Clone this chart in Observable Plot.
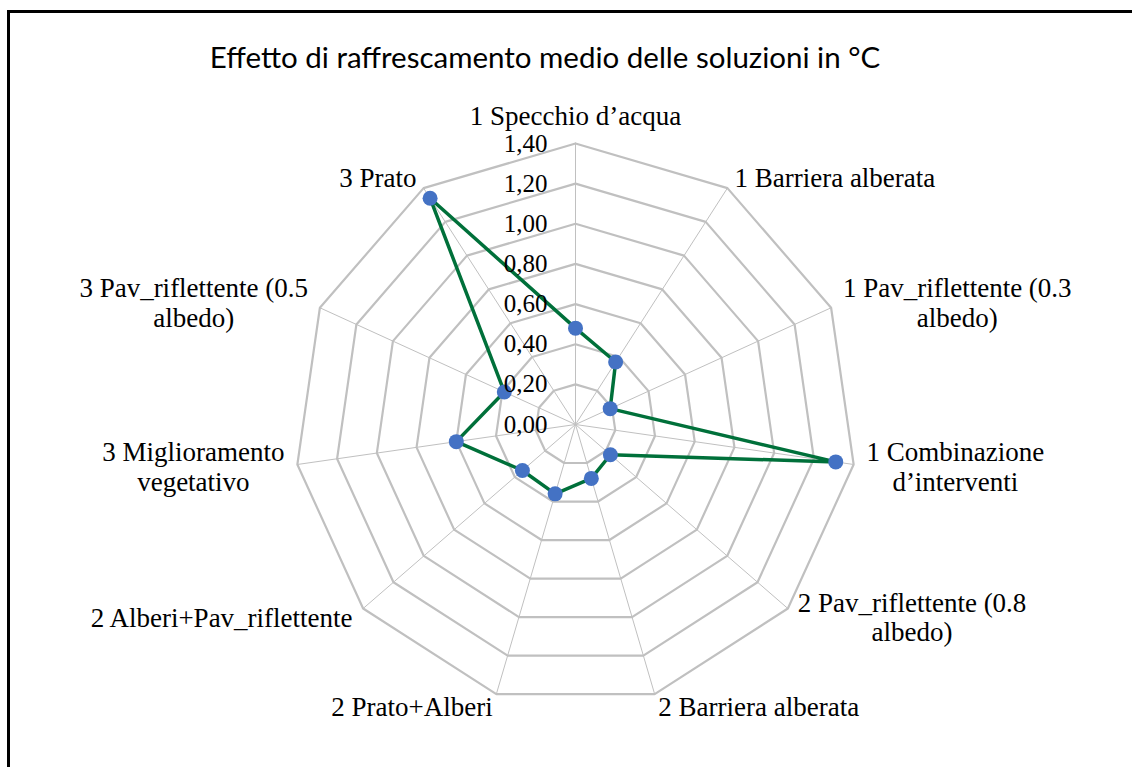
<!DOCTYPE html>
<html>
<head>
<meta charset="utf-8">
<script src="https://cdn.jsdelivr.net/npm/d3@7"></script>
<script src="https://cdn.jsdelivr.net/npm/@observablehq/plot@0.6"></script>
<style>
  body { margin: 0; background: #fff; }
  #wrap { position: relative; width: 1132px; height: 767px; overflow: hidden; background: #fff; }
  #chart { position: absolute; left: 0; top: 0; }
  #title { position: absolute; left: 0; top: 39px; width: 1090px; text-align: center;
           font-family: Lato, "Open Sans", sans-serif; font-size: 29.5px; line-height: 36px; color: #000; }
  #frame { position: absolute; left: 7px; top: 10px; width: 1200px; height: 800px;
           border: 3px solid #000; pointer-events: none; }
</style>
</head>
<body>
<div id="wrap">
  <div id="chart"></div>
  <div id="title">Effetto di raffrescamento medio delle soluzioni in °C</div>
  <div id="frame"></div>
</div>
<script>
// Solutions, clockwise from the top
const categories = [
  "1 Specchio d’acqua",
  "1 Barriera alberata",
  "1 Pav_riflettente (0.3 albedo)",
  "1 Combinazione d’interventi",
  "2 Pav_riflettente (0.8 albedo)",
  "2 Barriera alberata",
  "2 Prato+Alberi",
  "2 Alberi+Pav_riflettente",
  "3 Miglioramento vegetativo",
  "3 Pav_riflettente (0.5 albedo)",
  "3 Prato"
];
// Mean cooling effect (°C)
const values = [0.48, 0.37, 0.19, 1.31, 0.23, 0.28, 0.36, 0.35, 0.60, 0.39, 1.34];
// Radial axis
const tickValues = [0, 0.2, 0.4, 0.6, 0.8, 1.0, 1.2, 1.4];
const tickLabels = ["0,00", "0,20", "0,40", "0,60", "0,80", "1,00", "1,20", "1,40"];

const W = 1132, H = 767;
const cx = 575, cy = 424, radius = 281;
const maxValue = d3.max(tickValues);
const unit = radius / maxValue;          // pixels per °C
const n = categories.length;
const angle = i => 2 * Math.PI * i / n;
const px = (i, v) => v * Math.sin(angle(i));
const py = (i, v) => v * Math.cos(angle(i));

const serif = "'Liberation Serif', 'Times New Roman', serif";
const labelSize = 27, lineH = 1.1;

// word-wrap category names the way the spreadsheet does
const ctx = document.createElement("canvas").getContext("2d");
ctx.font = `${labelSize}px ${serif}`;
const measure = s => ctx.measureText(s).width;
function wrap(text, maxW = 275) {
  const words = text.split(" ");
  const lines = [];
  let cur = "";
  for (const w of words) {
    const t = cur ? cur + " " + w : w;
    if (cur && measure(t) > maxW) { lines.push(cur); cur = w; } else cur = t;
  }
  if (cur) lines.push(cur);
  return lines;
}

// series, closed back to the first solution
const series = values.map((v, i) => ({i, v}));
const closed = [...series, series[0]];

// polygonal grid rings
const rings = tickValues.filter(t => t > 0).flatMap(t =>
  d3.range(n + 1).map(k => ({level: t, i: k % n})));

// category labels outside the outer ring
const gap = 13 / unit;
const labels = categories.map((c, i) => {
  const lines = wrap(c);
  const w = d3.max(lines, measure);
  const h = lines.length * labelSize * lineH;
  const s = Math.sin(angle(i)), co = Math.cos(angle(i));
  let x = (maxValue + gap) * s, y = (maxValue + gap) * co;
  if (Math.abs(s) < 0.1) {
    if (co > 0) y += (h / 2) / unit; else y -= (h / 2) / unit;
  } else {
    x += Math.sign(s) * (w / 2) / unit;
  }
  return {text: lines.join("\n"), x, y};
});

const plot = Plot.plot({
  width: W,
  height: H,
  margin: 0,
  inset: 0,
  style: {background: "transparent", overflow: "visible"},
  x: {domain: [-cx / unit, (W - cx) / unit], axis: null},
  y: {domain: [-(H - cy) / unit, cy / unit], axis: null},
  marks: [
    Plot.link(d3.range(n), {
      x1: 0, y1: 0,
      x2: i => px(i, maxValue), y2: i => py(i, maxValue),
      stroke: "#c0c0c0", strokeWidth: 1
    }),
    Plot.line(rings, {
      x: d => px(d.i, d.level), y: d => py(d.i, d.level), z: "level",
      stroke: "#c0c0c0", strokeWidth: 2.2, strokeLinejoin: "miter"
    }),
    Plot.line(closed, {
      x: d => px(d.i, d.v), y: d => py(d.i, d.v),
      stroke: "#00703a", strokeWidth: 3.5, strokeLinejoin: "round"
    }),
    Plot.dot(series, {
      x: d => px(d.i, d.v), y: d => py(d.i, d.v),
      r: 7.5, fill: "#4472c4", stroke: "none"
    }),
    Plot.text(tickValues, {
      x: 0, y: d => d, text: (d, k) => tickLabels[k],
      textAnchor: "end", dx: -28, fontSize: 25, fontFamily: serif, fill: "#000"
    }),
    Plot.text(labels, {
      x: "x", y: "y", text: "text",
      textAnchor: "middle", lineAnchor: "middle", lineHeight: lineH,
      fontSize: labelSize, fontFamily: serif, fill: "#000"
    })
  ]
});
document.getElementById("chart").appendChild(plot);
</script>
</body>
</html>
